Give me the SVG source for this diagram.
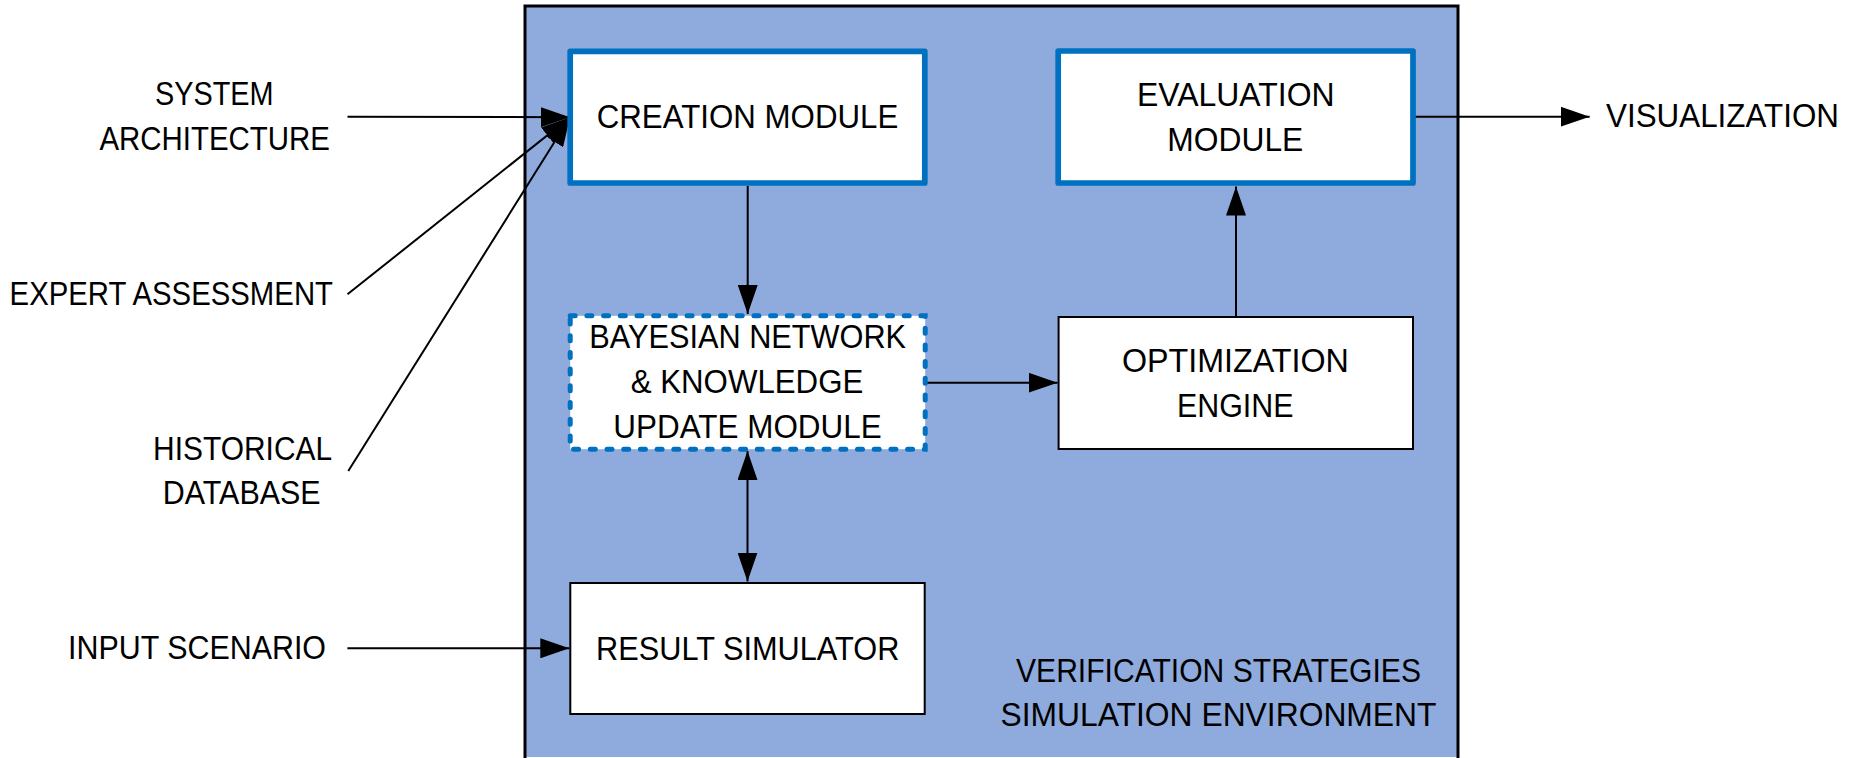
<svg xmlns="http://www.w3.org/2000/svg" width="1860" height="758" viewBox="0 0 1860 758">
<style>
text{font-family:"Liberation Sans",Arial,sans-serif;font-size:33px;fill:#000;text-anchor:middle}
.box{fill:#fff;stroke:#000;stroke-width:2}
.blue{fill:#fff;stroke:#0070C0;stroke-width:5.7;stroke-linejoin:round}
.dash{fill:#fff;stroke:#0070C0;stroke-width:5;stroke-linecap:round;stroke-dasharray:5 11.7}
.c{fill:none;stroke:#000;stroke-width:2}
</style>
<defs>
<marker id="ah" markerUnits="userSpaceOnUse" markerWidth="30" markerHeight="20" refX="29" refY="10" orient="auto-start-reverse">
<path d="M0,0 L29,10 L0,20 z" fill="#000"/>
</marker>
</defs>
<rect width="1860" height="758" fill="#fff"/>
<g id="container">
<rect x="525" y="6" width="933" height="751" fill="#8FAADC"/>
<path d="M525,770 V6 H1458 V770" fill="none" stroke="#000" stroke-width="3"/>
<text x="1218.5" y="681.7" textLength="405" lengthAdjust="spacingAndGlyphs">VERIFICATION STRATEGIES</text>
<text x="1218.5" y="726" textLength="436" lengthAdjust="spacingAndGlyphs">SIMULATION ENVIRONMENT</text>
</g>
<g id="inputs">
<text x="214.3" y="105" textLength="118.6" lengthAdjust="spacingAndGlyphs">SYSTEM</text>
<text x="214.7" y="150" textLength="230.4" lengthAdjust="spacingAndGlyphs">ARCHITECTURE</text>
<text x="171.3" y="305.3" textLength="323.4" lengthAdjust="spacingAndGlyphs">EXPERT ASSESSMENT</text>
<text x="242.6" y="459.5" textLength="179" lengthAdjust="spacingAndGlyphs">HISTORICAL</text>
<text x="241.7" y="504" textLength="158" lengthAdjust="spacingAndGlyphs">DATABASE</text>
<text x="197" y="659.3" textLength="258" lengthAdjust="spacingAndGlyphs">INPUT SCENARIO</text>
<text x="1722.5" y="126.7" textLength="233" lengthAdjust="spacingAndGlyphs">VISUALIZATION</text>
</g>
<g id="connectors">
<line class="c" x1="347.5" y1="116.8" x2="570" y2="117.2" marker-end="url(#ah)"/>
<line class="c" x1="347.5" y1="294.3" x2="570" y2="117.3" marker-end="url(#ah)"/>
<line class="c" x1="348.3" y1="471" x2="570" y2="117.3" marker-end="url(#ah)"/>
<line class="c" x1="347.4" y1="648.3" x2="569.3" y2="648.3" marker-end="url(#ah)"/>
<line class="c" x1="747.7" y1="186" x2="747.7" y2="314" marker-end="url(#ah)"/>
<line class="c" x1="747.5" y1="451" x2="747.5" y2="581.5" marker-start="url(#ah)" marker-end="url(#ah)"/>
<line class="c" x1="926" y1="382.7" x2="1057.6" y2="382.7" marker-end="url(#ah)"/>
<line class="c" x1="1236" y1="316" x2="1236" y2="186.5" marker-end="url(#ah)"/>
<line class="c" x1="1412.5" y1="116.7" x2="1589.7" y2="116.7" marker-end="url(#ah)"/>
</g>
<g id="creation">
<rect class="blue" x="570.2" y="51.3" width="354.6" height="131.7"/>
<text x="747.5" y="128" textLength="301.7" lengthAdjust="spacingAndGlyphs">CREATION MODULE</text>
</g>
<g id="evaluation">
<rect class="blue" x="1058.2" y="51" width="354.8" height="132"/>
<text x="1235.8" y="106" textLength="197.6" lengthAdjust="spacingAndGlyphs">EVALUATION</text>
<text x="1235.3" y="150.7" textLength="136" lengthAdjust="spacingAndGlyphs">MODULE</text>
</g>
<g id="bayesian">
<rect class="dash" x="570.2" y="315.8" width="355" height="133.4"/>
<text x="747.7" y="348.3" textLength="316.7" lengthAdjust="spacingAndGlyphs">BAYESIAN NETWORK</text>
<text x="747" y="393.3" textLength="232.6" lengthAdjust="spacingAndGlyphs">&amp; KNOWLEDGE</text>
<text x="747.5" y="437.7" textLength="268.4" lengthAdjust="spacingAndGlyphs">UPDATE MODULE</text>
</g>
<g id="optimization">
<rect class="box" x="1058.6" y="317" width="354.4" height="132"/>
<text x="1235.4" y="371.7" textLength="227" lengthAdjust="spacingAndGlyphs">OPTIMIZATION</text>
<text x="1235.2" y="416.7" textLength="116.5" lengthAdjust="spacingAndGlyphs">ENGINE</text>
</g>
<g id="result">
<rect class="box" x="570.3" y="583" width="354.4" height="131"/>
<text x="747.7" y="660" textLength="303.3" lengthAdjust="spacingAndGlyphs">RESULT SIMULATOR</text>
</g>
</svg>
